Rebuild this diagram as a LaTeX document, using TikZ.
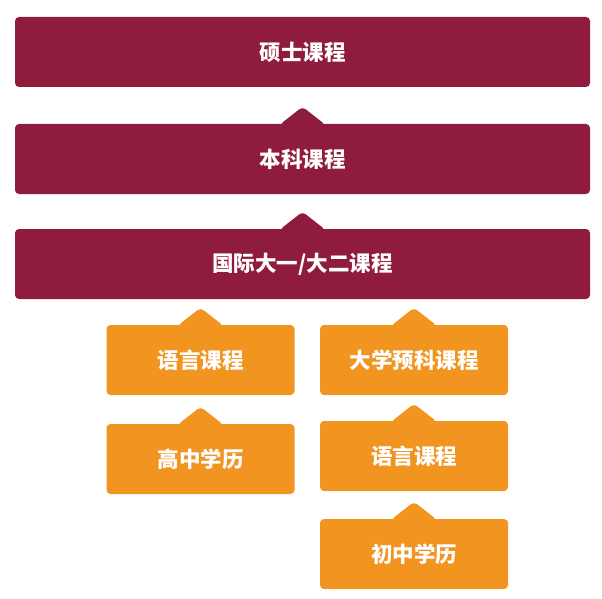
\documentclass[tikz,border=0pt]{standalone}
\usepackage{fontspec}
\newfontfamily\cjk{Noto Sans CJK SC}
\usepackage{tikz}
\usetikzlibrary{calc}
\definecolor{maroon}{RGB}{143,27,61}
\definecolor{amber}{RGB}{242,148,32}

\begin{document}
\begin{tikzpicture}[x=1pt, y=-1pt,
        degree/.style={rectangle, rounded corners=4pt, fill=maroon, text=white,
            minimum width=575pt, minimum height=70pt, font=\cjk\bfseries\fontsize{21.5}{26}\selectfont},
        entry/.style={degree, fill=amber, minimum width=188pt}]
        \useasboundingbox (0,0) rectangle (602,599);

        % University programmes, stacked at the top
        \node[degree] (master) at (302.5,52) {硕士课程};
        \node[degree] (bachelor) at (302.5,159) {本科课程};
        \node[degree] (intl) at (302.5,264) {国际大一/大二课程};

        % Entry routes below, two columns
        \node[entry] (lang1) at (200.5,360) {语言课程};
        \node[entry] (senior) at (200.5,459) {高中学历};
        \node[entry] (prep) at (414,360) {大学预科课程};
        \node[entry] (lang2) at (414,456) {语言课程};
        \node[entry] (junior) at (414,554) {初中学历};

        % Small pointers on top of each lower box
        \fill[maroon, rounded corners=4pt] ($(bachelor.north)+(-23,1)$) -- ($(bachelor.north)+(0,-17)$) -- ($(bachelor.north)+(23,1)$) -- cycle;
        \fill[maroon, rounded corners=4pt] ($(intl.north)+(-23,1)$) -- ($(intl.north)+(0,-17)$) -- ($(intl.north)+(23,1)$) -- cycle;
        \foreach \n in {lang1, senior, prep, lang2, junior}
            \fill[amber, rounded corners=4pt] ($(\n.north)+(-23,1)$) -- ($(\n.north)+(0,-17)$) -- ($(\n.north)+(23,1)$) -- cycle;
    \end{tikzpicture}
\end{document}
